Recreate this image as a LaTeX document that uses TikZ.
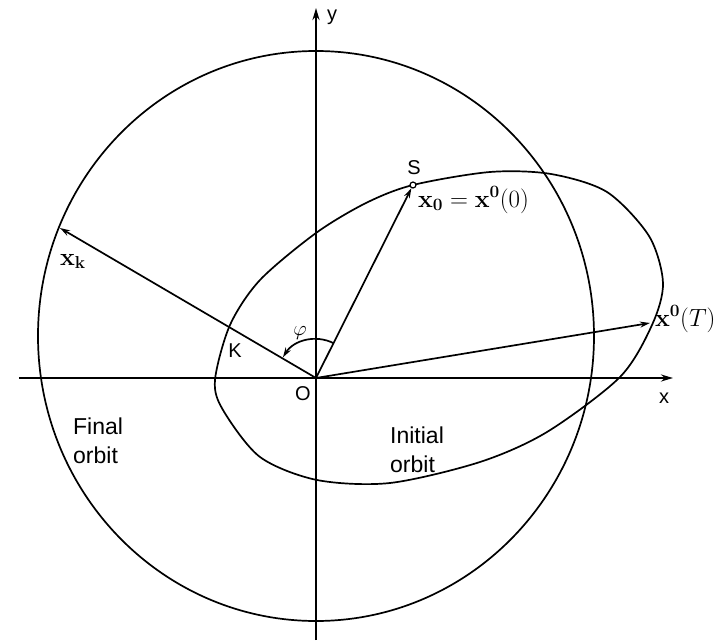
\documentclass[tikz,border=0pt]{standalone}
\usepackage[no-math]{fontspec}
\setmainfont{Liberation Sans}
\usetikzlibrary{arrows.meta}
\begin{document}
\begin{tikzpicture}[
  x=1pt, y=1pt, font=\fontsize{20}{24}\selectfont,
  axis/.style={line width=2pt,-{Stealth[length=12pt,width=7pt]}},
  curve/.style={line width=1.7pt},
  vec/.style={line width=1.7pt,-{Stealth[length=10pt,width=6pt]}},
  lbl/.style={inner sep=0pt,font=\fontsize{20}{24}\selectfont},
  txt/.style={inner sep=0pt,align=left,anchor=north west,font=\fontsize{23}{29}\selectfont},
  mlbl/.style={inner sep=0pt,anchor=base west,font=\fontsize{23}{28}\selectfont}]

\useasboundingbox (-316,-262) rectangle (406,378);

\coordinate (O) at (0,0);
\coordinate (xl) at (-297,0);
\coordinate (xr) at (357,0);
\coordinate (yb) at (0,-262);
\coordinate (yt) at (0,370);
\coordinate (K) at (-86,53);
\coordinate (xk) at (-256,150);
\coordinate (xT) at (334,55);

% final orbit
\draw[curve] (0,42) ellipse [x radius=278, y radius=285];

% initial orbit
\draw[curve] plot[smooth cycle] coordinates {(97,193) (174,206) (235,204) (291,186)
  (333,142) (347,95) (336,53) (304,1) (231,-54) (164,-84)
  (74,-105) (1,-102) (-56,-79) (-93,-32) (-101,-2) (-86,53) (-56,98) (0,145) (50,175)};

\draw[axis] (xl) -- (xr);
\draw[axis] (yb) -- (yt);

\node[draw,circle,fill=white,inner sep=0pt,minimum size=6pt,line width=1.2pt] (S) at (97,193) {};
\draw[vec] (O) -- (S);
\draw[vec] (O) -- (xk);
\draw[vec] (O) -- (xT);
\draw[vec] ([shift={(63:39)}]O) arc [start angle=63, end angle=148, radius=39];

\node[lbl] (ylab) at (16,361) {y};
\node[lbl] (xlab) at (348,-20) {x};
\node[lbl] (Olab) at (-13,-16) {O};
\node[lbl] (Slab) at (98,210) {S};
\node[lbl] (Klab) at (-81,27) {K};
\node[lbl] (philab) at (-16,45) {$\varphi$};
\node[mlbl] (xklab) at (-256,113) {$\mathbf{x}_\mathbf{k}$};
\node[mlbl] (x0lab) at (102,171) {$\mathbf{x}_\mathbf{0}=\mathbf{x}^\mathbf{0}(0)$};
\node[mlbl] (xTlab) at (339,52) {$\mathbf{x}^\mathbf{0}(T)$};
\node[txt] (final) at (-243,-40) {Final\\orbit};
\node[txt] (initial) at (74,-49) {Initial\\orbit};
\end{tikzpicture}
\end{document}
